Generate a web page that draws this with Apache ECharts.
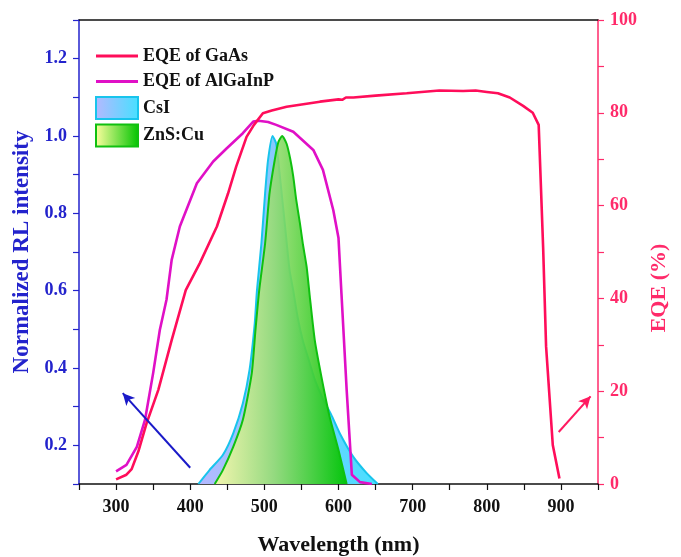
<!DOCTYPE html>
<html>
<head>
<meta charset="utf-8">
<script src="https://cdn.jsdelivr.net/npm/echarts@6/dist/echarts.min.js"></script>
<style>
  html, body { margin: 0; padding: 0; background: #fff; }
  #chart { width: 681px; height: 557px; }
</style>
</head>
<body>
<div id="chart"></div>
<script>
// EQE of GaAs (right axis, %)
var gaasWl  = [300, 314, 321, 330, 341, 357, 375, 394, 413, 436, 451, 462, 476, 486, 498, 510, 530, 575, 600, 605, 610, 620, 650, 692, 736, 768, 785, 800, 815, 831, 849, 862, 870, 876, 880, 889, 898];
var gaasEqe = [1.0, 2.0, 3.2, 7.0, 13.0, 20.3, 31.0, 41.8, 47.6, 55.5, 62.6, 68.4, 74.8, 77.4, 79.9, 80.5, 81.3, 82.4, 82.9, 82.8, 83.3, 83.3, 83.7, 84.2, 84.8, 84.7, 84.8, 84.5, 84.2, 83.3, 81.5, 80.0, 77.4, 51.0, 29.6, 8.4, 1.2];

// EQE of AlGaInP (right axis, %)
var algaWl  = [300, 314, 328, 339, 350, 359, 368, 375, 386, 409, 431, 449, 471, 485, 492, 505, 516, 539, 566, 579, 593, 600, 604, 611, 618, 629, 645];
var algaEqe = [2.7, 4.1, 8.0, 13.8, 23.9, 33.2, 39.7, 48.3, 55.5, 64.8, 69.5, 72.3, 75.6, 78.1, 78.3, 78.0, 77.4, 75.9, 72.0, 67.7, 59.0, 53.0, 41.0, 20.3, 2.0, 0.4, 0.0];

// CsI normalized RL (left axis)
var csiWl = [411, 426, 444, 458, 471, 480, 487, 490, 496, 501, 505, 511, 516, 521, 528, 534, 539, 545, 552, 560, 568, 579, 590, 602, 620, 638, 653];
var csiRl = [0.10, 0.136, 0.175, 0.231, 0.309, 0.395, 0.515, 0.60, 0.722, 0.852, 0.938, 1.0, 0.98, 0.895, 0.765, 0.653, 0.60, 0.53, 0.47, 0.42, 0.37, 0.32, 0.28, 0.23, 0.17, 0.128, 0.10];

// ZnS:Cu normalized RL (left axis)
var znsWl = [433, 444, 458, 471, 483, 488, 493, 501, 507, 514, 519, 524, 530, 535, 539, 543, 548, 552, 557, 561, 568, 577, 588, 600, 611];
var znsRl = [0.10, 0.136, 0.196, 0.266, 0.386, 0.498, 0.60, 0.722, 0.852, 0.938, 0.985, 1.0, 0.98, 0.94, 0.895, 0.835, 0.774, 0.72, 0.662, 0.59, 0.472, 0.377, 0.274, 0.188, 0.10];

// arrows (start, end) in data coords
var blueArrow = [[400, 0.142], [309, 0.335]];
var pinkArrow = [[897, 11.2], [940, 18.9]];

function pairs(xs, ys) {
  return xs.map(function (x, i) { return [x, ys[i]]; });
}

var font = 'Liberation Serif';
var blue = '#2323cc';
var pink = '#ff2a6a';
var gaasColor = '#ff0d5a';
var algaColor = '#e010c6';

var csiFill = new echarts.graphic.LinearGradient(0, 0, 1, 0, [
  { offset: 0, color: '#b6b8ff' },
  { offset: 1, color: '#46e0ff' }
]);
var znsFill = new echarts.graphic.LinearGradient(0, 0, 1, 0, [
  { offset: 0, color: 'rgba(255,255,160,0.85)' },
  { offset: 0.45, color: 'rgba(150,220,110,0.88)' },
  { offset: 1, color: 'rgba(0,196,0,0.95)' }
]);
var csiLegend = new echarts.graphic.LinearGradient(0, 0, 1, 0, [
  { offset: 0, color: '#b6b8ff' },
  { offset: 1, color: '#46e0ff' }
]);
var znsLegend = new echarts.graphic.LinearGradient(0, 0, 1, 0, [
  { offset: 0, color: '#ffffa0' },
  { offset: 1, color: '#00c400' }
]);

var chart = echarts.init(document.getElementById('chart'));

var option = {
  animation: false,
  backgroundColor: '#fff',
  textStyle: { fontFamily: font, fontWeight: 'bold' },
  grid: { left: 79, right: 83, top: 20, bottom: 73, outerBoundsMode: 'none', containLabel: false },
  legend: {
    orient: 'vertical',
    left: 90,
    top: 40,
    itemWidth: 42,
    itemHeight: 22,
    itemGap: 3.5,
    selectedMode: false,
    textStyle: { fontFamily: font, fontWeight: 'bold', fontSize: 18, lineHeight: 22, color: '#111' },
    data: [
      { name: 'EQE of GaAs', icon: 'path://M0,0H42V3H0Z', itemStyle: { color: gaasColor, borderWidth: 0 } },
      { name: 'EQE of AlGaInP', icon: 'path://M0,0H42V3H0Z', itemStyle: { color: algaColor, borderWidth: 0 } },
      { name: 'CsI', icon: 'rect', itemStyle: { color: csiLegend, borderColor: '#18c4ec', borderWidth: 2 } },
      { name: 'ZnS:Cu', icon: 'rect', itemStyle: { color: znsLegend, borderColor: '#10c010', borderWidth: 2 } }
    ]
  },
  xAxis: [
    {
      type: 'value',
      min: 250,
      max: 950,
      interval: 50,
      name: 'Wavelength (nm)',
      nameLocation: 'middle',
      nameGap: 50,
      nameTextStyle: { fontFamily: font, fontWeight: 'bold', fontSize: 22, color: '#111' },
      axisLine: { lineStyle: { color: '#111', width: 1.5 } },
      axisTick: { inside: false, length: 6, lineStyle: { color: '#111', width: 1.2 } },
      axisLabel: {
        margin: 14,
        fontFamily: font, fontWeight: 'bold', fontSize: 18, color: '#111',
        formatter: function (v) { return v % 100 === 0 ? String(v) : ''; }
      },
      splitLine: { show: false }
    },
    {
      type: 'value',
      position: 'top',
      min: 250,
      max: 950,
      axisLine: { lineStyle: { color: '#111', width: 1.5 } },
      axisTick: { show: false },
      axisLabel: { show: false },
      splitLine: { show: false }
    }
  ],
  yAxis: [
    {
      type: 'value',
      position: 'left',
      min: 0.1,
      max: 1.3,
      interval: 0.1,
      name: 'Normalized RL intensity',
      nameLocation: 'middle',
      nameGap: 42,
      nameTextStyle: { fontFamily: font, fontWeight: 'bold', fontSize: 23, color: blue },
      axisLine: { show: true, lineStyle: { color: blue, width: 1.5 } },
      axisTick: { show: true, inside: false, length: 6, lineStyle: { color: blue, width: 1.2 } },
      axisLabel: {
        margin: 12,
        fontFamily: font, fontWeight: 'bold', fontSize: 18, color: blue,
        formatter: function (v) { return Math.round(v * 10) % 2 === 0 ? v.toFixed(1) : ''; }
      },
      splitLine: { show: false }
    },
    {
      type: 'value',
      position: 'right',
      min: 0,
      max: 100,
      interval: 10,
      name: 'EQE (%)',
      nameLocation: 'middle',
      nameGap: 46,
      nameTextStyle: { fontFamily: font, fontWeight: 'bold', fontSize: 22, color: pink, padding: [0, 72, 0, 0] },
      axisLine: { show: true, lineStyle: { color: pink, width: 1.5 } },
      axisTick: { show: true, inside: false, length: 6, lineStyle: { color: pink, width: 1.2 } },
      axisLabel: {
        margin: 12,
        fontFamily: font, fontWeight: 'bold', fontSize: 18, color: pink,
        formatter: function (v) { return v % 20 === 0 ? String(v) : ''; }
      },
      splitLine: { show: false }
    }
  ],
  series: [
    {
      name: 'CsI',
      type: 'line',
      xAxisIndex: 0,
      yAxisIndex: 0,
      data: pairs(csiWl, csiRl),
      symbol: 'none',
      smooth: 0.2,
      z: 1,
      lineStyle: { color: '#18c4ec', width: 2 },
      itemStyle: { color: '#18c4ec' },
      areaStyle: { color: csiFill, opacity: 1, origin: 'start' },
      markLine: {
        silent: true,
        symbol: ['none', 'arrow'],
        symbolSize: [9, 12],
        label: { show: false },
        lineStyle: { color: '#1a1ac8', width: 2, type: 'solid' },
        data: [[{ coord: blueArrow[0] }, { coord: blueArrow[1] }]]
      }
    },
    {
      name: 'ZnS:Cu',
      type: 'line',
      xAxisIndex: 0,
      yAxisIndex: 0,
      data: pairs(znsWl, znsRl),
      symbol: 'none',
      smooth: 0.2,
      z: 2,
      lineStyle: { color: '#10c010', width: 2 },
      itemStyle: { color: '#10c010' },
      areaStyle: { color: znsFill, opacity: 1, origin: 'start' }
    },
    {
      name: 'EQE of GaAs',
      type: 'line',
      xAxisIndex: 0,
      yAxisIndex: 1,
      data: pairs(gaasWl, gaasEqe),
      symbol: 'none',
      z: 4,
      lineStyle: { color: gaasColor, width: 2.6 },
      itemStyle: { color: gaasColor },
      markLine: {
        silent: true,
        symbol: ['none', 'arrow'],
        symbolSize: [9, 12],
        label: { show: false },
        lineStyle: { color: '#ff1a60', width: 2, type: 'solid' },
        data: [[{ coord: pinkArrow[0] }, { coord: pinkArrow[1] }]]
      }
    },
    {
      name: 'EQE of AlGaInP',
      type: 'line',
      xAxisIndex: 0,
      yAxisIndex: 1,
      data: pairs(algaWl, algaEqe),
      symbol: 'none',
      z: 3,
      lineStyle: { color: algaColor, width: 2.6 },
      itemStyle: { color: algaColor }
    }
  ]
};

chart.setOption(option);
</script>
</body>
</html>
